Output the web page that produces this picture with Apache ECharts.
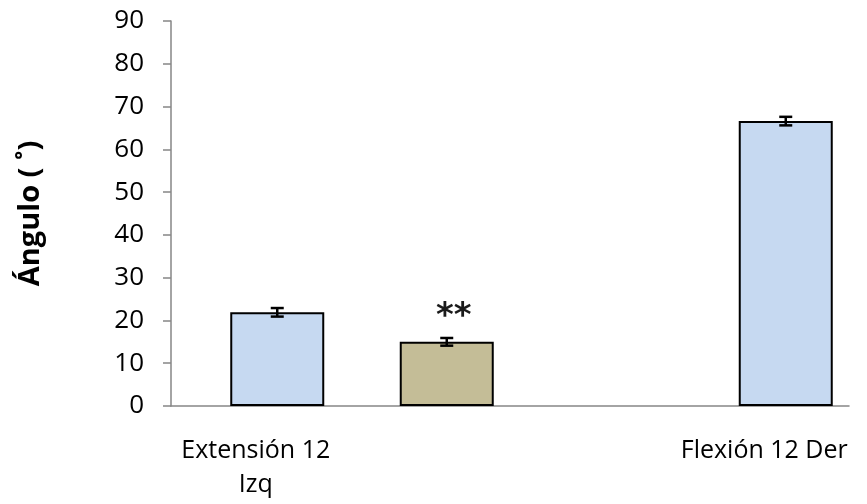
<!DOCTYPE html>
<html>
<head>
<meta charset="utf-8">
<script src="https://cdn.jsdelivr.net/npm/echarts@6/dist/echarts.min.js"></script>
<style>html,body{margin:0;padding:0;background:#fff}#c{width:867px;height:504px}</style>
</head>
<body>
<div id="c"></div>
<script>
var categories = ["Extensión 12\nIzq", "", "", "Flexión 12 Der"];
var values = [21.9, 15.0, null, 66.6];
var errors = [1.0, 0.9, null, 1.0];
var barColors = ["#C6D9F1", "#C4BD97", "#C6D9F1", "#C6D9F1"];
var marks = ["", "**", "", ""];
var yTitle = "Ángulo ( ˚)";

var FONT = "Open Sans";
var spacerWidth = 43, barWidth = 94;
var chart = echarts.init(document.getElementById('c'));
var barData = values.map(function (v, i) {
  return {
    value: v,
    itemStyle: { color: barColors[i] },
    label: marks[i] ? { show: true, formatter: marks[i] } : { show: false }
  };
});
var errData = values.map(function (v, i) { return [i, v, errors[i]]; }).filter(function (d) { return d[1] != null; });

chart.setOption({
  animation: false,
  grid: { left: 171, right: 18, top: 21, bottom: 98 },
  xAxis: {
    type: 'category',
    data: categories,
    axisLine: { lineStyle: { color: '#868686', width: 1.5 } },
    axisTick: { length: 7, lineStyle: { color: '#868686', width: 1.5 } },
    axisLabel: { color: '#000', fontFamily: FONT, fontSize: 25, lineHeight: 34, margin: 28, interval: 0 }
  },
  yAxis: {
    type: 'value', min: 0, max: 90, interval: 10,
    name: yTitle, nameLocation: 'middle', nameGap: 126, nameRotate: 90,
    nameTextStyle: { fontFamily: FONT, fontSize: 29, fontWeight: 'bold', color: '#000' },
    axisLine: { show: true, lineStyle: { color: '#868686', width: 1.5 } },
    axisTick: { show: true, length: 8, lineStyle: { color: '#868686', width: 1.5 } },
    splitLine: { show: false },
    axisLabel: { color: '#000', fontFamily: FONT, fontSize: 26, margin: 27 }
  },
  series: [
    { type: 'bar', data: values.map(function () { return null; }), barWidth: spacerWidth, barGap: 0, silent: true },
    {
      type: 'bar', data: barData, barWidth: barWidth, barGap: 0,
      itemStyle: { borderColor: '#000', borderWidth: 2 },
      label: { position: 'top', distance: 8, offset: [7, 0], color: '#1a1a1a', fontFamily: 'DejaVu Sans', fontWeight: 'bold', fontSize: 34 }
    },
    {
      type: 'custom', data: errData, z: 10,
      renderItem: function (params, api) {
        var idx = api.value(0), v = api.value(1), e = api.value(2);
        var hi = api.coord([idx, v + e]), lo = api.coord([idx, v - e]);
        var x = hi[0] + spacerWidth / 2;
        var cap = 6.5;
        var st = { stroke: '#000', lineWidth: 2.5 };
        return { type: 'group', children: [
          { type: 'line', shape: { x1: x, y1: hi[1], x2: x, y2: lo[1] }, style: st },
          { type: 'line', shape: { x1: x - cap, y1: hi[1], x2: x + cap, y2: hi[1] }, style: st },
          { type: 'line', shape: { x1: x - cap, y1: lo[1], x2: x + cap, y2: lo[1] }, style: st }
        ] };
      }
    }
  ]
});
</script>
</body>
</html>
